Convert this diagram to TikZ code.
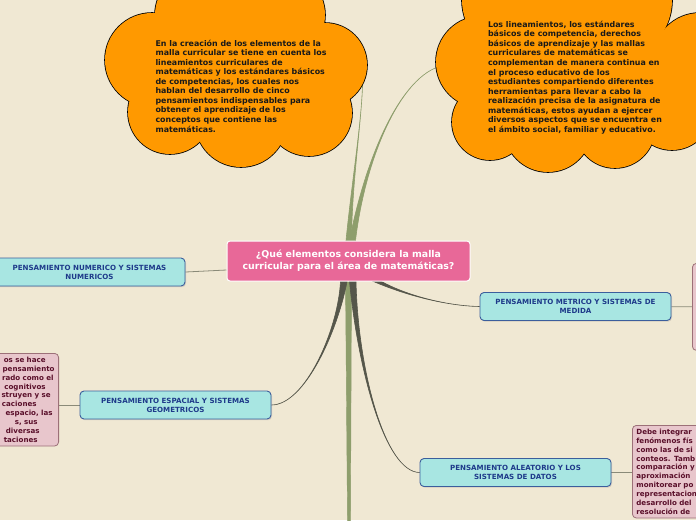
\documentclass[tikz,border=0pt]{standalone}
\usepackage{fontspec}
\setmainfont{DejaVu Sans}
\usetikzlibrary{calc,backgrounds,shadows}
\definecolor{paper}{RGB}{240,232,211}
\definecolor{stemgreen}{RGB}{142,158,108}
\definecolor{stemdark}{RGB}{85,86,74}
\definecolor{twiggray}{RGB}{138,138,120}
\definecolor{hubpink}{RGB}{232,104,152}
\definecolor{topicfill}{RGB}{168,230,226}
\definecolor{topicline}{RGB}{60,94,156}
\definecolor{topictext}{RGB}{30,58,138}
\definecolor{notefill}{RGB}{232,198,204}
\definecolor{noteline}{RGB}{156,112,120}
\definecolor{notetext}{RGB}{90,15,42}
\definecolor{cloudfill}{RGB}{255,153,0}

% tapered branch: style, root a, root b, control 1, control 2, tip
\newcommand{\limb}[6]{%
  \filldraw[#1, line width=0.6pt] #2 .. controls #4 and #5 .. #6
    .. controls #5 and #4 .. #3 -- cycle;}
% cloud puffs as x/y/radius, listed round the cloud
\newcommand{\puffsA}{152/60/47, 170/112/42, 241/121/46, 309/113/43,
  325/65/42, 280/15/45, 200/15/45}
\newcommand{\puffsB}{482/62/46, 520/0/58, 610/0/62, 700/60/47,
  672/110/40, 615/128/40, 548/128/44, 490/122/38}

\begin{document}
\begin{tikzpicture}[x=1pt, y=-1pt,
  hubbox/.style={draw=white, line width=1pt, fill=hubpink, rounded corners=3pt,
    text=white, align=center, minimum width=243pt, minimum height=40pt,
    font=\fontsize{9.4}{12.3}\selectfont\bfseries},
  topic/.style={draw=topicline, line width=0.9pt, fill=topicfill,
    rounded corners=4pt, text=topictext, align=center, minimum width=191pt,
    minimum height=28pt, inner sep=2pt, font=\fontsize{7.1}{9}\selectfont\bfseries,
    drop shadow={opacity=0.25, shadow xshift=1pt, shadow yshift=-1.2pt}},
  detail/.style={draw=noteline, line width=0.8pt, fill=notefill,
    rounded corners=4pt, text=notetext, inner xsep=4pt, inner ysep=3.5pt,
    font=\fontsize{7.1}{8.9}\selectfont\bfseries},
  puffedge/.style={draw=black, line width=1.6pt},
  cloudtext/.style={align=left, inner sep=0pt, text=black!90,
    font=\fontsize{7.9}{9.55}\selectfont\bfseries},
  twig/.style={draw=twiggray, line width=0.8pt},
  green/.style={fill=stemgreen, draw=stemgreen},
  dark/.style={fill=stemdark, draw=stemdark},
]
\useasboundingbox (0,0) rectangle (696,520);

% central question and the five thoughts
\node[hubbox] (hub) at (348.5,261)
  {¿Qué elementos considera la malla\\curricular para el área de matemáticas?};
\node[topic] (num) at (89.5,272) {PENSAMIENTO NUMERICO Y SISTEMAS\\NUMERICOS};
\node[topic] (met) at (575.5,306.5) {PENSAMIENTO METRICO Y SISTEMAS DE\\MEDIDA};
\node[topic] (spa) at (175.5,405) {PENSAMIENTO ESPACIAL Y SISTEMAS\\GEOMETRICOS};
\node[topic] (ale) at (515.5,472.5) {PENSAMIENTO ALEATORIO Y LOS\\SISTEMAS DE DATOS};

% detail notes, cut by the page edge
\node[detail, anchor=north east, text width=130pt, align=right] (dspa) at (59,353)
  {os se hace\kern9pt\\pensamiento\\rado como el\kern1pt\\
   cognitivos\kern9pt\\struyen y se\kern4pt\\caciones\kern18pt\\
   espacio, las\kern2pt\\s, sus\kern17pt\\diversas\kern15pt\\
   taciones\kern17pt};
\node[detail, anchor=north west, minimum width=130pt, minimum height=87pt]
  (dmet) at (692,263) {};
\node[detail, anchor=north west, text width=120pt, align=left] (dale) at (632,425)
  {Debe integrar\\fenómenos fís\\como las de si\\conteos. Tamb\\comparación y\\
   aproximación\\monitorear po\\representacion\\desarrollo del\\resolución de};

% clouds: outline of every puff, then the fill over the inner strokes
\foreach \cx/\cy/\r in \puffsA {\draw[puffedge] (\cx,\cy) circle[radius=\r];}
\foreach \cx/\cy/\r in \puffsB {\draw[puffedge] (\cx,\cy) circle[radius=\r];}
\foreach \cx/\cy/\r in \puffsA {\fill[cloudfill] (\cx,\cy) circle[radius=\r];}
\foreach \cx/\cy/\r in \puffsB {\fill[cloudfill] (\cx,\cy) circle[radius=\r];}
\fill[cloudfill] (152,60) -- (170,112) -- (241,121) -- (309,113) -- (325,65)
  -- (280,15) -- (200,15) -- cycle;
\fill[cloudfill] (482,62) -- (520,0) -- (610,0) -- (700,60) -- (672,110)
  -- (615,128) -- (548,128) -- (490,122) -- cycle;

\node[cloudtext] (noteA) at (241,86)
  {En la creación de los elementos de la\\malla curricular se tiene en cuenta los\\
   lineamientos curriculares de\\matemáticas y los estándares básicos\\
   de competencias, los cuales nos\\hablan del desarrollo de cinco\\
   pensamientos indispensables para\\obtener el aprendizaje de los\\
   conceptos que contiene las\\matemáticas.};
\node[cloudtext] (noteB) at (575,77.5)
  {Los lineamientos, los estándares\\básicos de competencia, derechos\\
   básicos de aprendizaje y las mallas\\curriculares de matemáticas se\\
   complementan de manera continua en\\el proceso educativo de los\\
   estudiantes compartiendo diferentes\\herramientas para llevar a cabo la\\
   realización precisa de la asignatura de\\matemáticas, estos ayudan a ejercer\\
   diversos aspectos que se encuentra en\\el ámbito social, familiar y educativo.};

\coordinate (foot) at (349,522);

\begin{scope}[on background layer]
\fill[paper] (0,0) rectangle (696,520);
\limb{green}{([xshift=-2.5pt]hub.north)}{([xshift=3pt]hub.north)}
  {(352,180)}{(362,120)}{([xshift=36pt,yshift=6pt]noteA.east)}
\limb{green}{([xshift=1pt]hub.north)}{([xshift=7pt]hub.north)}
  {(365,160)}{(400,75)}{([xshift=-45pt,yshift=12pt]noteB.west)}
\fill[green] ([xshift=-3pt]hub.south) -- ([xshift=3pt]hub.south)
  -- ([xshift=1.5pt]foot) -- ([xshift=-1.5pt]foot) -- cycle;
\limb{dark}{([xshift=25pt]hub.south)}{([xshift=33pt]hub.south)}
  {(410,297)}{(450,306)}{(met.west)}
\limb{dark}{([xshift=-8pt]hub.south)}{([xshift=-1.5pt]hub.south)}
  {(338,330)}{(305,405)}{(spa.east)}
\limb{dark}{([xshift=1pt]hub.south)}{([xshift=7.5pt]hub.south)}
  {(358,370)}{(385,472)}{(ale.west)}
\draw[twig] (num.east) -- ([yshift=-9pt]hub.west);
\draw[twig] (met) -- (dmet);
\draw[twig] (spa.west) -- (spa.west -| dspa.east);
\draw[twig] (ale.east) -- (ale.east -| dale.west);
\end{scope}
\end{tikzpicture}
\end{document}
